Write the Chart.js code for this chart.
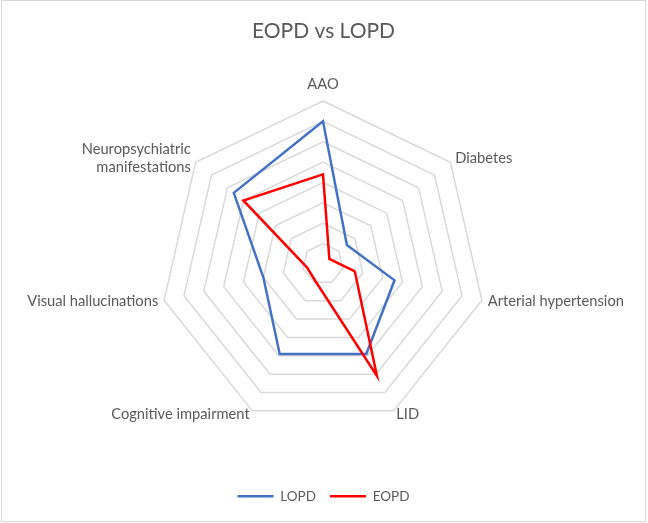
<!DOCTYPE html>
<html>
<head>
<meta charset="utf-8">
<script src="https://cdn.jsdelivr.net/npm/chart.js@4"></script>
<style>
  html, body { margin: 0; padding: 0; background: #fff; }
  #box {
    position: absolute; left: 1px; top: 0px;
    width: 643px; height: 520px;
    border: 1px solid #d9d9d9;
  }
</style>
</head>
<body>
<div id="box"><canvas id="grafico"></canvas></div>
<script>
// radar categories
const labels = [
    'AAO',
    'Diabetes',
    'Arterial hypertension',
    'LID',
    'Cognitive impairment',
    'Visual hallucinations',
    ['Neuropsychiatric', 'manifestations']
];

// values
const lopd = [70, 15, 36, 49, 49, 30, 56];
const eopd = [44, 4, 16, 61, 9, 8, 50];

const grey = '#595959';
const fontName = 'Lato, "Open Sans", sans-serif';
const labelSize = 14.7;

const grafico = document.getElementById('grafico');

// point labels centred on the spoke end, like the office chart does
const spokeLabels = {
    id: 'spokeLabels',
    afterDraw(chart) {
        const scale = chart.scales.r;
        const ctx = chart.ctx;
        ctx.save();
        ctx.font = labelSize + 'px ' + fontName;
        ctx.fillStyle = grey;
        ctx.textBaseline = 'middle';
        chart.data.labels.forEach((lab, i) => {
            const pos = scale.getPointPosition(i, scale.drawingArea + 6);
            let y = pos.y;
            if (Math.abs(pos.x - scale.xCenter) < 2) {
                ctx.textAlign = 'center';
                y -= 11;
            } else if (pos.x > scale.xCenter) {
                ctx.textAlign = 'left';
            } else {
                ctx.textAlign = 'right';
            }
            if (pos.y > scale.yCenter + scale.drawingArea * 0.5) y -= 2;
            const lines = Array.isArray(lab) ? lab : [lab];
            const lh = 18;
            const y0 = y - (lines.length - 1) * lh / 2;
            lines.forEach((t, k) => ctx.fillText(t, pos.x, y0 + k * lh));
        });
        ctx.restore();
    }
};

const data = {
    labels: labels,
    datasets: [{
        label: 'LOPD',
        data: lopd,
        borderColor: '#4472C4',
        backgroundColor: '#4472C4',
        borderWidth: 2.5,
        pointRadius: 0,
        fill: false,
        order: 1
    }, {
        label: 'EOPD',
        data: eopd,
        borderColor: '#FF0000',
        backgroundColor: '#FF0000',
        borderWidth: 2.5,
        pointRadius: 0,
        fill: false,
        order: 0
    }]
};

const config = {
    type: 'radar',
    data: data,
    plugins: [spokeLabels],
    options: {
        responsive: true,
        maintainAspectRatio: false,
        animation: false,
        layout: {
            padding: { left: 158, right: 158, top: 0, bottom: 8 }
        },
        elements: {
            line: { tension: 0, borderJoinStyle: 'miter' }
        },
        scales: {
            r: {
                min: 0,
                max: 80,
                ticks: { stepSize: 10, display: false },
                angleLines: { display: false },
                grid: { color: '#d9d9d9', lineWidth: 1.5 },
                pointLabels: { display: false }
            }
        },
        plugins: {
            title: {
                display: true,
                text: 'EOPD vs LOPD',
                color: grey,
                padding: { top: 18, bottom: 9 },
                font: { size: 21, family: fontName, weight: 'normal' }
            },
            legend: {
                position: 'bottom',
                labels: {
                    usePointStyle: true,
                    pointStyle: 'line',
                    pointStyleWidth: 36,
                    boxHeight: 13,
                    padding: 14,
                    color: grey,
                    font: { size: 13.5, family: fontName },
                    sort: (a, b) => a.datasetIndex - b.datasetIndex
                }
            },
            tooltip: { enabled: false }
        }
    }
};

const grafico_1 = new Chart(grafico, config);
</script>
</body>
</html>
